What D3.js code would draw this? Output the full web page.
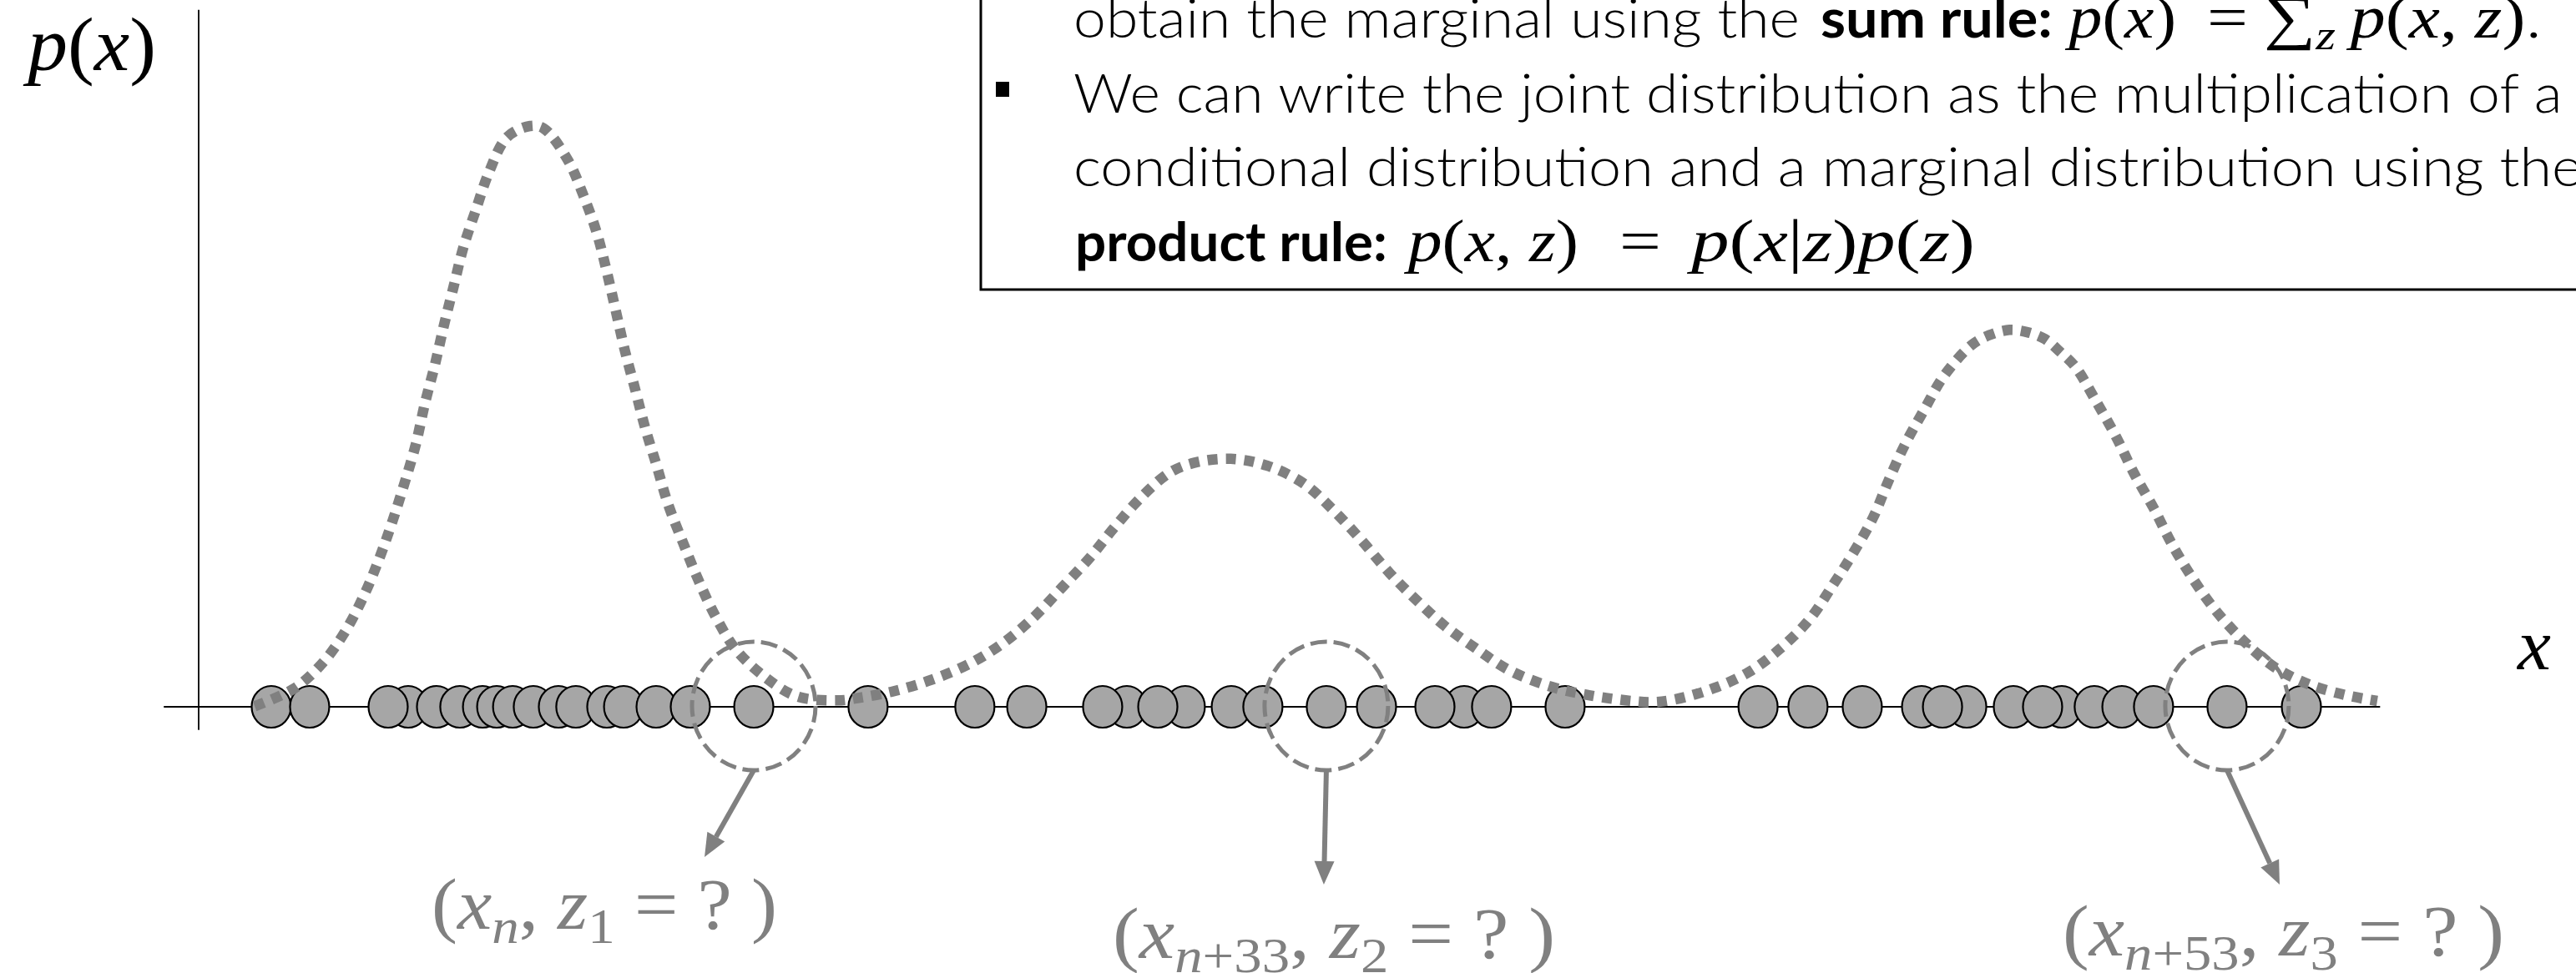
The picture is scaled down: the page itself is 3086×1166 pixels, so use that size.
<!DOCTYPE html>
<html>
<head>
<meta charset="utf-8">
<script src="https://cdn.jsdelivr.net/npm/d3@7"></script>
<style>
  html, body { margin: 0; padding: 0; background: #fff; overflow: hidden; }
  svg { display: block; }
  text { white-space: pre; }
</style>
</head>
<body>
<svg id="chart" width="3086" height="1166"></svg>
<script>
// Observed samples x_n on the real line, in three groups (listed in drawing order)
const groupA = [3.33, 5.09, 9.61, 8.69, 10.91, 11.98, 13.02, 13.67, 14.40, 15.35, 16.50, 17.30, 18.72, 19.49, 20.98, 22.55, 25.46];
const groupB = [30.70, 35.60, 37.98, 42.57, 41.46, 45.25, 43.99, 47.36, 48.81, 51.72, 54.02, 58.04, 56.70, 59.30, 62.67];
const groupC = [71.52, 73.81, 76.30, 79.02, 81.09, 79.98, 83.23, 85.45, 84.57, 86.94, 88.21, 89.66, 93.03, 96.44];

// Samples whose component assignment is asked about
const highlighted = [25.46, 51.72, 93.03];

// Marginal density p(x), sampled along the curve
const densityX = [2.57, 4.40, 5.74, 6.74, 7.62, 8.31, 8.91, 9.44, 9.96, 10.38, 10.83, 11.25, 11.67, 12.14, 12.70, 13.32, 14.15, 15.20, 15.82, 16.91, 17.64, 18.26, 18.72, 19.13, 19.55, 20.01, 20.48, 21.00, 21.52, 22.21, 22.91, 23.70, 24.63, 25.88, 27.43, 29.30, 30.21, 31.89, 33.58, 35.40, 36.94, 38.35, 39.61, 40.88, 42.00, 43.26, 44.53, 45.65, 47.34, 49.02, 50.70, 52.11, 53.37, 54.63, 55.90, 57.16, 58.56, 60.11, 62.08, 63.76, 65.73, 66.71, 67.75, 69.49, 71.11, 72.50, 73.89, 74.94, 75.87, 76.80, 77.49, 78.25, 79.12, 80.05, 81.32, 82.13, 83.06, 83.87, 84.69, 85.38, 86.08, 87.01, 87.94, 88.75, 89.68, 90.49, 91.42, 92.46, 93.75, 95.14, 96.76, 98.49, 99.92];
const densityY = [0.001, 0.032, 0.078, 0.131, 0.195, 0.258, 0.322, 0.385, 0.452, 0.523, 0.588, 0.657, 0.720, 0.791, 0.854, 0.921, 0.981, 1.000, 0.996, 0.943, 0.881, 0.816, 0.749, 0.682, 0.613, 0.548, 0.480, 0.416, 0.350, 0.283, 0.219, 0.156, 0.099, 0.054, 0.018, 0.011, 0.015, 0.027, 0.046, 0.075, 0.111, 0.156, 0.206, 0.257, 0.309, 0.362, 0.403, 0.420, 0.427, 0.415, 0.384, 0.336, 0.285, 0.230, 0.182, 0.139, 0.101, 0.063, 0.034, 0.020, 0.010, 0.008, 0.013, 0.032, 0.060, 0.099, 0.151, 0.209, 0.264, 0.326, 0.388, 0.451, 0.510, 0.570, 0.623, 0.640, 0.649, 0.645, 0.633, 0.611, 0.585, 0.527, 0.465, 0.403, 0.341, 0.281, 0.223, 0.168, 0.115, 0.070, 0.039, 0.020, 0.010];

// Labels for the highlighted samples: [text, kind]  (i = italic, r = upright, *s = subscript)
const pointLabels = [
  [["(", "r"], ["x", "i"], ["n", "is"], [",", "r"], [" ", "r"], ["z", "i"], ["1", "rs"], [" = ", "r"], ["?", "r"], [" )", "r"]],
  [["(", "r"], ["x", "i"], ["n", "is"], ["+33", "rs"], [",", "r"], [" ", "r"], ["z", "i"], ["2", "rs"], [" = ", "r"], ["?", "r"], [" )", "r"]],
  [["(", "r"], ["x", "i"], ["n", "is"], ["+53", "rs"], [",", "r"], [" ", "r"], ["z", "i"], ["3", "rs"], [" = ", "r"], ["?", "r"], [" )", "r"]]
];

const MATH = "'Liberation Serif','DejaVu Serif',serif";
const TEXT = "Lato,'Open Sans','Noto Sans',sans-serif";
const GREY = "#808080";

const svg = d3.select("#chart");

const x = d3.scaleLinear().domain([0, 100]).range([238, 2850]);
const y = d3.scaleLinear().domain([0, 1]).range([847, 151]);

// Draws a run of mixed text and squeezes it horizontally into [x0, x1]
function run(g, parts, x0, x1, baseline, size, fill) {
  const t = g.append("text").attr("x", 0).attr("y", 0)
    .attr("fill", fill).attr("font-size", size);
  let shift = 0;
  parts.forEach(([s, k]) => {
    const sub = k.length > 1 && k.endsWith("s");
    const base = k[0];
    const sp = t.append("tspan").text(s)
      .attr("font-family", (base === "t" || base === "b") ? TEXT : MATH)
      .attr("font-style", base === "i" ? "italic" : "normal")
      .attr("font-weight", base === "b" ? 700 : (base === "t" ? 300 : 400));
    if (sub) sp.attr("font-size", size * 0.7);
    const want = sub ? size * 0.2 : 0;
    if (want !== shift) { sp.attr("dy", want - shift); shift = want; }
  });
  const bb = t.node().getBBox();
  const k = (x1 - x0) / bb.width;
  t.attr("transform", `translate(${x0 - bb.x * k},${baseline}) scale(${k},1)`);
  return t;
}

// ---- text box with the sum / product rules ----
const box = svg.append("g");
box.append("rect")
  .attr("x", 1175).attr("y", -20).attr("width", 2000).attr("height", 367)
  .attr("fill", "#fff").attr("stroke", "#000").attr("stroke-width", 3);

run(box, [["obtain the marginal using the", "t"]], 1286, 2156, 45, 65, "#000");
run(box, [["sum rule:", "b"]], 2181, 2459, 45, 65, "#000");
run(box, [["p", "i"], ["(", "r"], ["x", "i"], [")", "r"]], 2473, 2607, 45, 72, "#000");
run(box, [["=", "r"]], 2644, 2693, 45, 72, "#000");
run(box, [["∑", "r"], ["z", "is"]], 2712, 2798, 45, 72, "#000");
run(box, [["p", "i"], ["(", "r"], ["x", "i"], [", ", "r"], ["z", "i"], [")", "r"], [".", "t"]], 2810, 3045, 45, 72, "#000");

box.append("rect").attr("x", 1193).attr("y", 98).attr("width", 16).attr("height", 18).attr("fill", "#000");
run(box, [["We can write the joint distribution as the multiplication of a", "t"]], 1286, 3070, 135, 65, "#000");
run(box, [["conditional distribution and a marginal distribution using the", "t"]], 1286, 3094, 223, 65, "#000");
run(box, [["product rule:", "b"]], 1288, 1662, 313, 65, "#000");
run(box, [["p", "i"], ["(", "r"], ["x", "i"], [", ", "r"], ["z", "i"], [")", "r"]], 1681, 1891, 313, 72, "#000");
run(box, [["=", "r"]], 1940, 1990, 313, 72, "#000");
run(box, [["p", "i"], ["(", "r"], ["x", "i"], ["|", "r"], ["z", "i"], [")", "r"], ["p", "i"], ["(", "r"], ["z", "i"], [")", "r"]], 2020, 2366, 313, 72, "#000");

// ---- axes ----
svg.append("line")
  .attr("x1", x(0)).attr("x2", x(0)).attr("y1", y(1.2)).attr("y2", y(-0.04))
  .attr("stroke", "#000").attr("stroke-width", 1.8);
svg.append("line")
  .attr("x1", x(-1.6)).attr("x2", x(100.05)).attr("y1", y(0)).attr("y2", y(0))
  .attr("stroke", "#000").attr("stroke-width", 2.2);

run(svg, [["p", "i"], ["(", "r"], ["x", "i"], [")", "r"]], 27, 187, 84, 92, "#000");
run(svg, [["x", "i"]], 3014, 3056, 802, 86, "#000");

// ---- samples ----
const samples = groupA.concat(groupB, groupC);
svg.append("g").selectAll("ellipse").data(samples).join("ellipse")
  .attr("cx", d => x(d)).attr("cy", y(0))
  .attr("rx", 23.5).attr("ry", 25)
  .attr("fill", "#a6a6a6").attr("stroke", "#000").attr("stroke-width", 2.2);

// ---- marginal density ----
const line = d3.line().x(d => x(d[0])).y(d => y(d[1])).curve(d3.curveCatmullRom.alpha(0.5));
svg.append("path")
  .datum(densityX.map((v, i) => [v, densityY[i]]))
  .attr("d", line)
  .attr("fill", "none").attr("stroke", GREY)
  .attr("stroke-width", 12.5).attr("stroke-dasharray", "12 10");

// ---- highlighted samples, arrows and labels ----
const ringRx = 74, ringRy = 77;
const arrowOffsets = [[-59, 104], [-3, 137], [63, 137]];
const labelSpans = [[517, 931, 1113], [1333, 1863, 1148], [2471, 3000, 1145]];

const ann = svg.append("g");
highlighted.forEach((v, i) => {
  const cx = x(v), cy = y(0) - 1;
  ann.append("ellipse")
    .attr("cx", cx).attr("cy", cy).attr("rx", ringRx).attr("ry", ringRy)
    .attr("fill", "none").attr("stroke", GREY)
    .attr("stroke-width", 5).attr("stroke-dasharray", "20 8");

  const sx = cx, sy = cy + ringRy;
  const tx = sx + arrowOffsets[i][0], ty = sy + arrowOffsets[i][1];
  const ang = Math.atan2(ty - sy, tx - sx);
  const headLen = 28, headHalf = 12;
  const bx = tx - headLen * Math.cos(ang), by = ty - headLen * Math.sin(ang);
  ann.append("line")
    .attr("x1", sx).attr("y1", sy).attr("x2", bx).attr("y2", by)
    .attr("stroke", GREY).attr("stroke-width", 6);
  const px = -Math.sin(ang), py = Math.cos(ang);
  ann.append("polygon")
    .attr("points", [[tx, ty], [bx + px * headHalf, by + py * headHalf], [bx - px * headHalf, by - py * headHalf]].map(p => p.join(",")).join(" "))
    .attr("fill", GREY);

  const [l0, l1, lb] = labelSpans[i];
  run(ann, pointLabels[i], l0, l1, lb, 86, GREY);
});
</script>
</body>
</html>
